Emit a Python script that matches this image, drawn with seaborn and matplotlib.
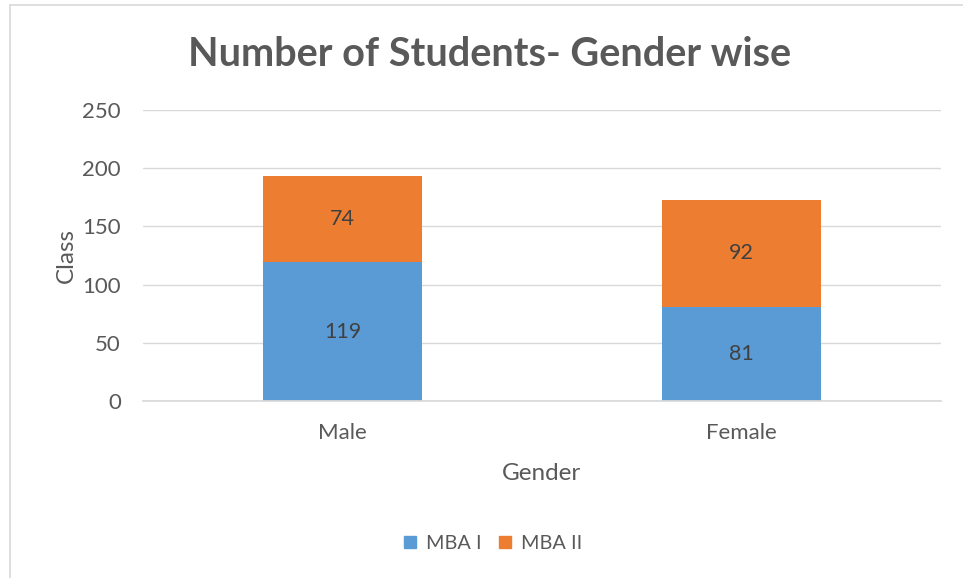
import matplotlib

matplotlib.use("Agg")
import matplotlib.pyplot as plt
import pandas as pd
import seaborn as sns
from matplotlib.patches import Patch

genders = ["Male", "Female"]
mba1 = [119, 81]
mba2 = [74, 92]
series_names = ["MBA I", "MBA II"]
colors = ["#5B9BD5", "#ED7D31"]
y_ticks = [0, 50, 100, 150, 200, 250]

sns.set_theme(style="white")
plt.rcParams["font.family"] = ["Lato", "DejaVu Sans"]

df = pd.DataFrame({"Gender": genders, "MBA I": mba1, "MBA II": mba2})
df["Total"] = df["MBA I"] + df["MBA II"]

fig = plt.figure(figsize=(9.63, 5.78), dpi=100)
ax = fig.add_axes([0.1485, 0.3062, 0.8285, 0.5035])

# stacked: draw totals in orange, then MBA I over it
sns.barplot(data=df, x="Gender", y="Total", color=colors[1], width=0.4,
            saturation=1, linewidth=0, ax=ax)
sns.barplot(data=df, x="Gender", y="MBA I", color=colors[0], width=0.4,
            saturation=1, linewidth=0, ax=ax)

ax.set_ylim(0, 250)
ax.set_yticks(y_ticks)
ax.grid(axis="y", color="#d9d9d9", linewidth=1)
ax.set_axisbelow(True)
for s in ["top", "right", "left"]:
    ax.spines[s].set_visible(False)
ax.spines["bottom"].set_color("#d9d9d9")
ax.tick_params(axis="both", colors="#595959", labelsize=16, length=0)
ax.tick_params(axis="y", pad=16)
ax.tick_params(axis="x", pad=16)

# data labels
for i in range(len(genders)):
    ax.text(i, mba1[i] / 2, str(mba1[i]), ha="center", va="center",
            fontsize=15.5, color="#404040")
    ax.text(i, mba1[i] + mba2[i] / 2, str(mba2[i]), ha="center", va="center",
            fontsize=15.5, color="#404040")

ax.set_xlabel("Gender", fontsize=17.5, color="#595959", labelpad=14)
ax.set_ylabel("Class", fontsize=17.5, color="#595959", labelpad=4)

fig.text(0.508, 0.906, "Number of Students- Gender wise", ha="center",
         va="center", fontsize=28.5, fontweight="bold", color="#595959")

handles = [Patch(color=c, label=n) for c, n in zip(colors, series_names)]
fig.legend(handles=handles, loc="center", bbox_to_anchor=(0.512, 0.06),
           ncol=2, frameon=False, fontsize=14.3, handlelength=0.6,
           handleheight=0.6, columnspacing=0.9, handletextpad=0.5,
           labelcolor="#595959")

# chart frame
fig.add_artist(plt.Line2D([0.0105, 0.0105], [0, 0.992], color="#d9d9d9",
                          linewidth=1.2, transform=fig.transFigure))
fig.add_artist(plt.Line2D([0.0105, 1], [0.992, 0.992], color="#d9d9d9",
                          linewidth=1.2, transform=fig.transFigure))

fig.savefig("out.png", dpi=100)
plt.close(fig)
